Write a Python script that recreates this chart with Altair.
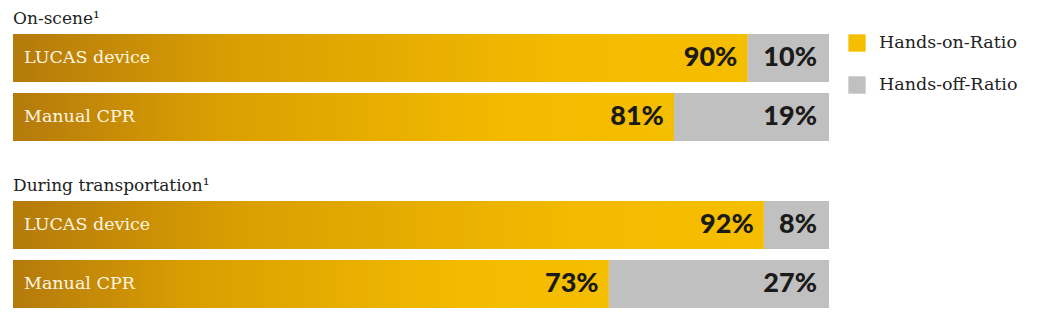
import altair as alt
import pandas as pd

groups = ["On-scene¹", "During transportation¹"]
categories = ["LUCAS device", "Manual CPR"]
hands_on = [90, 81, 92, 73]
hands_off = [10, 19, 8, 27]
series = ["Hands-on-Ratio", "Hands-off-Ratio"]
colors = ["#F6BE00", "#C0C0C0"]

rows = []
i = 0
for g in groups:
    for c in categories:
        rows.append({"group": g, "category": c, "series": series[0], "value": hands_on[i], "order": 0})
        rows.append({"group": g, "category": c, "series": series[1], "value": hands_off[i], "order": 1})
        i += 1
df = pd.DataFrame(rows)

SERIF = "DejaVu Serif"
PCT_FONT = "Lato"

grad = alt.Gradient(
    gradient="linear",
    stops=[
        alt.GradientStop(color="#B47A0C", offset=0),
        alt.GradientStop(color="#DA9E02", offset=0.3),
        alt.GradientStop(color="#F3BA00", offset=0.75),
        alt.GradientStop(color="#F6BE00", offset=1),
    ],
    x1=0, x2=1, y1=0, y2=0,
)

yenc = alt.Y("category:N", sort=categories, axis=None,
             scale=alt.Scale(paddingInner=0.186, paddingOuter=0))


def panel(g):
    base = alt.Chart(df).transform_filter(alt.datum.group == g).transform_calculate(
        label="datum.value + '%'", total="100")
    bars = base.mark_bar().encode(
        y=yenc,
        x=alt.X("value:Q", stack="zero", axis=None, scale=alt.Scale(domain=[0, 100], nice=False)),
        color=alt.Color("series:N", scale=alt.Scale(domain=series, range=colors),
                        legend=alt.Legend(title=None, orient="none", legendX=835, legendY=0)),
        order=alt.Order("order:Q"),
    )
    on = base.transform_filter(alt.datum.series == series[0])
    off = base.transform_filter(alt.datum.series == series[1])
    gbar = on.mark_bar(color=grad).encode(y=yenc, x=alt.X("value:Q"))
    cat = on.mark_text(align="left", dx=11, font=SERIF, fontSize=17.5, color="#FFF6E0").encode(
        y=yenc, x=alt.value(0), text="category:N")
    onlab = on.mark_text(align="right", dx=-10, font=PCT_FONT, fontWeight=900, fontSize=27,
                         color="#1A1A1A").encode(y=yenc, x=alt.X("value:Q"), text="label:N")
    offlab = off.mark_text(align="right", dx=-12, font=PCT_FONT, fontWeight=900, fontSize=27,
                           color="#1A1A1A").encode(y=yenc, x=alt.X("total:Q"), text="label:N")
    return alt.layer(bars, gbar, cat, onlab, offlab).properties(
        width=816, height=107,
        title=alt.TitleParams(g, anchor="start", font=SERIF, fontSize=17, fontWeight="normal",
                              color="#222222", offset=6),
    )


chart = alt.vconcat(panel(groups[0]), panel(groups[1]), spacing=36).properties(
    padding={"left": 13, "top": 10, "right": 5, "bottom": 5},
    background="white",
).configure_view(stroke=None).configure_legend(
    symbolType="square", symbolSize=300, symbolStrokeWidth=0, labelFont=SERIF,
    labelFontSize=17.5, labelColor="#222222", rowPadding=24, labelOffset=13,
)

chart.save("out.html", embed_options={"renderer": "svg", "actions": False})
